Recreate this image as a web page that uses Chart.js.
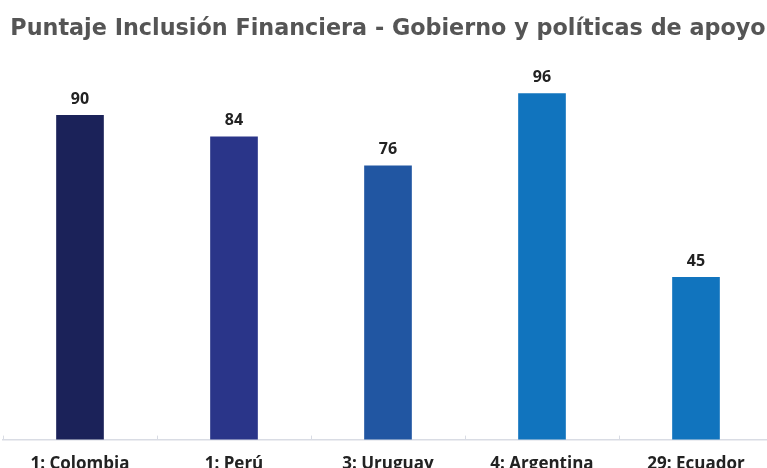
<!DOCTYPE html>
<html>
<head>
<meta charset="utf-8">
<script src="https://cdn.jsdelivr.net/npm/chart.js@4"></script>
<style>
  html, body { margin: 0; padding: 0; background: #fff; overflow: hidden; }
  #wrap { width: 776px; height: 480px; position: relative; }
</style>
</head>
<body>
<div id="wrap"><canvas id="scoreChart"></canvas></div>
<script>
const countries = ['1: Colombia', '1: Perú', '3: Uruguay', '4: Argentina', '29: Ecuador'];
const scores = [90, 84, 76, 96, 45];
const barColors = ['#1b2259', '#2a3589', '#2156a2', '#1174be', '#1174be'];

const fontFamily = '"Open Sans", "DejaVu Sans", sans-serif';
const titleFamily = '"DejaVu Sans", sans-serif';

// value above each bar
const valueLabels = {
    id: 'valueLabels',
    afterDatasetsDraw(chart) {
        const ctx = chart.ctx;
        const meta = chart.getDatasetMeta(0);
        ctx.save();
        ctx.font = `bold 16px ${fontFamily}`;
        ctx.fillStyle = '#222';
        ctx.textAlign = 'center';
        ctx.textBaseline = 'middle';
        meta.data.forEach((bar, i) => {
            ctx.fillText(scores[i], bar.x, bar.y - 16);
        });
        ctx.restore();
    }
};

// short ticks standing up from the axis between categories
const axisTicks = {
    id: 'axisTicks',
    afterDraw(chart) {
        const ctx = chart.ctx;
        const x = chart.scales.x;
        const bottom = chart.chartArea.bottom;
        ctx.save();
        ctx.strokeStyle = '#d9dce4';
        ctx.lineWidth = 1;
        for (let i = 0; i <= countries.length; i++) {
            const px = Math.round(x.getPixelForValue(i - 0.5)) + 0.5;
            ctx.beginPath();
            ctx.moveTo(px, bottom - 4);
            ctx.lineTo(px, bottom);
            ctx.stroke();
        }
        ctx.restore();
    }
};

new Chart(document.getElementById('scoreChart'), {
    type: 'bar',
    data: {
        labels: countries,
        datasets: [{
            data: scores,
            backgroundColor: barColors,
            borderWidth: 0,
            barThickness: 47,
            categoryPercentage: 1
        }]
    },
    options: {
        responsive: true,
        maintainAspectRatio: false,
        animation: false,
        layout: { padding: { left: 3, right: 3, top: 0, bottom: 0 } },
        plugins: {
            legend: { display: false },
            tooltip: { enabled: false },
            title: {
                display: true,
                text: 'Puntaje Inclusión Financiera - Gobierno y políticas de apoyo',
                color: '#555',
                font: { family: titleFamily, size: 22.3, weight: 'bold' },
                padding: { top: 16, bottom: 36.5 }
            }
        },
        scales: {
            y: {
                display: false,
                min: 0,
                max: 100
            },
            x: {
                grid: { display: false },
                border: { display: true, color: '#d9dce4', width: 1.5 },
                ticks: {
                    color: '#222',
                    padding: 6,
                    maxRotation: 0,
                    font: { family: fontFamily, size: 17, weight: 'bold' }
                }
            }
        }
    },
    plugins: [valueLabels, axisTicks]
});
</script>
</body>
</html>
